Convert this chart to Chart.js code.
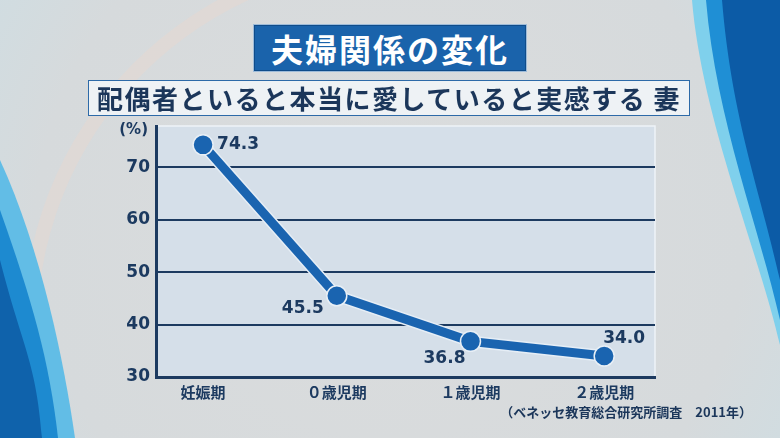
<!DOCTYPE html>
<html lang="ja">
<head>
<meta charset="utf-8">
<title>夫婦関係の変化</title>
<script src="https://cdn.jsdelivr.net/npm/chart.js@4.4.1/dist/chart.umd.min.js"></script>
<style>
  html, body { margin: 0; padding: 0; }
  body { width: 780px; height: 438px; overflow: hidden; position: relative; background: #d9dcde; }
  #chart { position: absolute; left: 0; top: 0; }
  .title {
    position: absolute; left: 253px; top: 24px; width: 272px; height: 46px;
    background: #1a63ab; border: 1px solid #9dbbd9; box-shadow: inset 0 0 0 1px #0f4c8a;
    color: #fff; font: bold 32px "Noto Sans CJK JP", sans-serif; letter-spacing: 2px;
    text-align: center; line-height: 46px;
  }
  .sub {
    position: absolute; left: 88px; top: 80px; width: 600px; height: 34px;
    background: #eef2f5; border: 1.5px solid #2d6aa8;
    color: #1b365a; font: bold 26px "Noto Sans CJK JP", sans-serif; letter-spacing: 1.5px;
    text-align: center; line-height: 34px;
  }
  .src {
    position: absolute; left: 500px; top: 402px; width: 252px; text-align: right;
    color: #1b365a; font: bold 13px "Noto Sans CJK JP", sans-serif;
  }
</style>
</head>
<body>
<canvas id="chart" width="780" height="438"></canvas>
<div class="title">夫婦関係の変化</div>
<div class="sub">配偶者といると本当に愛していると実感する 妻</div>
<div class="src">（ベネッセ教育総合研究所調査　2011年）</div>
<script>
'use strict';

// data
var categories = ['妊娠期', '０歳児期', '１歳児期', '２歳児期'];
var values = [74.3, 45.5, 36.8, 34.0];
var yTicks = [30, 40, 50, 60, 70];

var navy = '#1c3a60';
var lineBlue = '#1a64b0';
var numFont = { family: '"DejaVu Sans", sans-serif', size: 17, weight: 'bold' };

var points = values.map(function(v, i) { return { x: i, y: v }; });

// background, side decorations and plot fill
var backdrop = {
  id: 'backdrop',
  beforeDraw: function(chart) {
    var ctx = chart.ctx;
    var a = chart.chartArea;
    ctx.save();
    var g = ctx.createRadialGradient(390, 230, 60, 390, 230, 480);
    g.addColorStop(0, '#dadcdd');
    g.addColorStop(0.7, '#d6dadc');
    g.addColorStop(1, '#cfdde2');
    ctx.fillStyle = g;
    ctx.fillRect(0, 0, 780, 438);

    // faint arc
    ctx.strokeStyle = 'rgba(235,215,205,0.4)';
    ctx.lineWidth = 14;
    ctx.beginPath();
    ctx.arc(400, 330, 370, Math.PI * 0.95, Math.PI * 1.6);
    ctx.stroke();

    // left side waves
    var left = [
      ['#62bde6', 0, 160, 75],
      ['#1d8ad0', 0, 210, 58],
      ['#0f62ab', 0, 260, 42]
    ];
    left.forEach(function(l) {
      ctx.fillStyle = l[0];
      ctx.beginPath();
      ctx.moveTo(0, l[2]);
      ctx.bezierCurveTo(l[3] * 0.55, l[2] + 90, l[3] * 0.85, 360, l[3], 438);
      ctx.lineTo(0, 438);
      ctx.closePath();
      ctx.fill();
    });

    // right side waves
    var right = [
      ['#7fd0ec', 692, 345],
      ['#1f8fd5', 706, 320],
      ['#0c5ba6', 722, 280]
    ];
    right.forEach(function(r) {
      ctx.fillStyle = r[0];
      ctx.beginPath();
      ctx.moveTo(r[1], 0);
      ctx.bezierCurveTo(r[1] + 10, 120, 760, r[2] - 90, 780, r[2]);
      ctx.lineTo(780, 0);
      ctx.closePath();
      ctx.fill();
    });

    // plot area
    ctx.fillStyle = '#d5dfe9';
    ctx.fillRect(a.left, a.top, a.right - a.left, a.bottom - a.top);
    ctx.strokeStyle = '#eef3f7';
    ctx.lineWidth = 1.5;
    ctx.strokeRect(a.left, a.top, a.right - a.left, a.bottom - a.top);
    ctx.restore();
  },
  afterDraw: function(chart) {
    var ctx = chart.ctx;
    var a = chart.chartArea;
    ctx.save();
    ctx.fillStyle = navy;
    ctx.font = 'bold 15px "DejaVu Sans", sans-serif';
    ctx.textAlign = 'right';
    ctx.textBaseline = 'middle';
    ctx.fillText('(%)', a.left - 8, a.top + 4);
    ctx.restore();
  }
};

// value labels next to each point
var valueLabels = {
  id: 'valueLabels',
  afterDatasetsDraw: function(chart) {
    var ctx = chart.ctx;
    var meta = chart.getDatasetMeta(0);
    var place = [[14, 0, 'left'], [-13, 13, 'right'], [-5, 17, 'right'], [-1, -17, 'left']];
    ctx.save();
    ctx.fillStyle = navy;
    ctx.font = 'bold 17px "DejaVu Sans", sans-serif';
    ctx.textBaseline = 'middle';
    meta.data.forEach(function(pt, i) {
      ctx.textAlign = place[i][2];
      ctx.fillText(values[i].toFixed(1), pt.x + place[i][0], pt.y + place[i][1]);
    });
    ctx.restore();
  }
};

var ctx = document.getElementById('chart').getContext('2d');
new Chart(ctx, {
  type: 'line',
  data: {
    datasets: [{
      data: points,
      borderColor: lineBlue,
      borderWidth: 9,
      pointRadius: 10,
      pointBackgroundColor: lineBlue,
      pointBorderColor: '#e8eff6',
      pointBorderWidth: 1.5,
      tension: 0,
      order: 1
    }, {
      data: points,
      borderColor: '#e6eef6',
      borderWidth: 12,
      pointRadius: 0,
      tension: 0,
      order: 2
    }]
  },
  options: {
    responsive: false,
    animation: false,
    clip: false,
    layout: { padding: { left: 0, top: 126, right: 125, bottom: 0 } },
    plugins: { legend: { display: false }, tooltip: { enabled: false } },
    scales: {
      x: {
        type: 'linear',
        min: -0.352,
        max: 3.38,
        afterBuildTicks: function(scale) {
          scale.ticks = categories.map(function(c, i) { return { value: i }; });
        },
        afterFit: function(scale) { scale.height = 61; },
        grid: { display: false, drawTicks: false },
        border: { display: true, color: navy, width: 3 },
        ticks: {
          autoSkip: false,
          maxRotation: 0,
          padding: 6,
          color: navy,
          font: { family: '"Noto Sans CJK JP", sans-serif', size: 15, weight: 'bold' },
          callback: function(v) { return categories[v]; }
        }
      },
      y: {
        min: 30,
        max: 77.9,
        afterBuildTicks: function(scale) {
          scale.ticks = yTicks.map(function(t) { return { value: t }; });
        },
        afterFit: function(scale) { scale.width = 156; },
        grid: {
          drawTicks: false,
          color: navy,
          lineWidth: 2
        },
        border: { display: true, color: navy, width: 3 },
        ticks: {
          padding: 6,
          color: navy,
          font: numFont
        }
      }
    }
  },
  plugins: [backdrop, valueLabels]
});
</script>
</body>
</html>
